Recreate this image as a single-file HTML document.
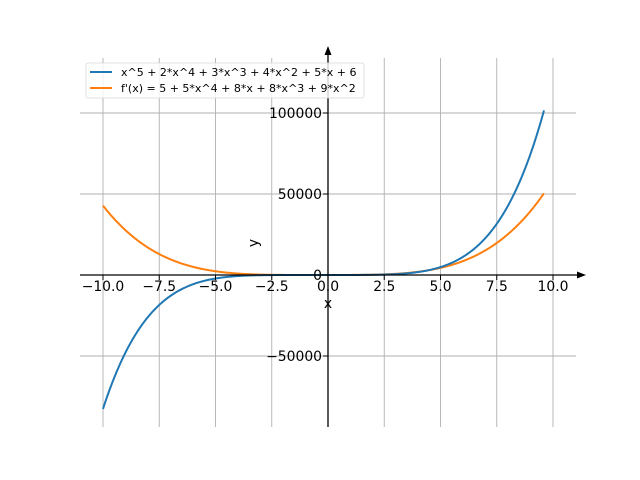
<!DOCTYPE html>
<html><head><meta charset="utf-8"><style>
html,body{margin:0;padding:0;background:#fff;}
svg{display:block;font-family:"DejaVu Sans","Liberation Sans",sans-serif;}
</style></head><body>
<svg id="s" width="640" height="480" xmlns="http://www.w3.org/2000/svg">
<rect width="640" height="480" fill="#fff"/>
<g id="grid" stroke="#b0b0b0" stroke-width="0.9"></g>
<path id="p2" fill="none" stroke="#ff7f0e" stroke-width="2"/>
<path id="p1" fill="none" stroke="#1f77b4" stroke-width="2"/>
<g stroke="#000" stroke-width="1.3">
<line x1="328" y1="52" x2="328" y2="427"/>
<line x1="80" y1="275" x2="580" y2="275"/>
</g>
<polygon points="328,46 324.5,55 331.5,55" fill="#000"/>
<polygon points="586,275 577,271.5 577,278.5" fill="#000"/>
<g id="ticks" stroke="#000" stroke-width="1"></g>
<g font-size="13.9" fill="#000" id="labels"></g>
<text x="328" y="308" font-size="13.9" text-anchor="middle">x</text>
<text x="258" y="243" font-size="13.9" text-anchor="middle" transform="rotate(-90 258 243)">y</text>
<rect x="86" y="63" width="278" height="35" rx="2" fill="#fff" fill-opacity="0.8" stroke="#d9d9d9" stroke-width="0.8"/>
<line x1="90" y1="72" x2="112" y2="72" stroke="#1f77b4" stroke-width="2"/>
<line x1="90" y1="88" x2="112" y2="88" stroke="#ff7f0e" stroke-width="2"/>
<text x="121" y="76" font-size="11">x^5 + 2*x^4 + 3*x^3 + 4*x^2 + 5*x + 6</text>
<text x="121" y="92" font-size="11">f'(x) = 5 + 5*x^4 + 8*x + 8*x^3 + 9*x^2</text>
</svg>
<script>
var X=function(x){return 328+22.5*x;},Y=function(y){return 275-y*81/50000;};
var g=document.getElementById('grid'),t=document.getElementById('ticks'),l=document.getElementById('labels');
var ns='http://www.w3.org/2000/svg';
function el(p,n,a,txt){var e=document.createElementNS(ns,n);for(var k in a)e.setAttribute(k,a[k]);if(txt!=null)e.textContent=txt;p.appendChild(e);}
var xs=[-10,-7.5,-5,-2.5,0,2.5,5,7.5,10];
xs.forEach(function(v){var x=X(v);el(g,'line',{x1:x,y1:58,x2:x,y2:427});el(t,'line',{x1:x,y1:275,x2:x,y2:280});
el(l,'text',{x:x,y:291,'text-anchor':'middle'},(v<0?'\u2212':'')+Math.abs(v).toFixed(1));});
[-50000,0,50000,100000].forEach(function(v){var y=Y(v);el(g,'line',{x1:80,y1:y,x2:576,y2:y});el(t,'line',{x1:323,y1:y,x2:328,y2:y});
el(l,'text',{x:322,y:y+5,'text-anchor':'end'},(v<0?'\u2212':'')+Math.abs(v));});
var a='',b='';for(var i=0;i<=400;i++){var x=-10+19.6*i/400;
var f=Math.pow(x,5)+2*Math.pow(x,4)+3*x*x*x+4*x*x+5*x+6;var d=5+5*Math.pow(x,4)+8*x+8*x*x*x+9*x*x;
a+=(i?'L':'M')+X(x).toFixed(2)+','+Y(f).toFixed(2);b+=(i?'L':'M')+X(x).toFixed(2)+','+Y(d).toFixed(2);}
document.getElementById('p1').setAttribute('d',a);document.getElementById('p2').setAttribute('d',b);
</script>
</body></html>
